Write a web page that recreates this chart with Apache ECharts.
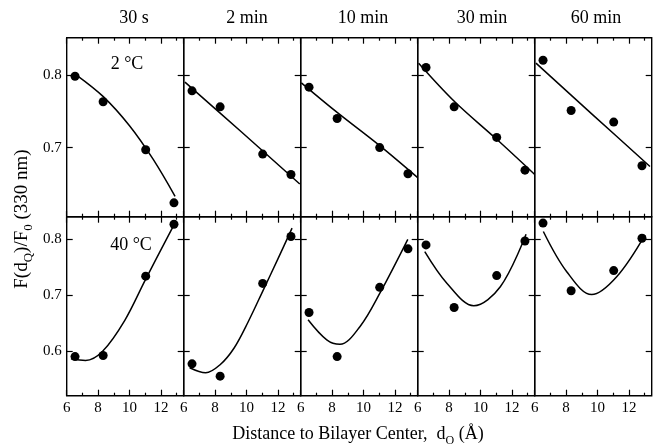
<!DOCTYPE html>
<html><head><meta charset="utf-8">
<script src="https://cdn.jsdelivr.net/npm/echarts@6/dist/echarts.min.js"></script>
<style>html,body{margin:0;padding:0;background:#fff}#c{width:657px;height:447px}</style>
</head><body><div id="c"></div>
<script>
// ---- data ----
const panelTitles = ['30 s', '2 min', '10 min', '30 min', '60 min'];
const rowLabels = ['2 \u00B0C', '40 \u00B0C'];
const xMajorTicks = [6, 8, 10, 12];
const xMinorTicks = [7, 9, 11, 13];
const yTicksTop = [0.7, 0.8];
const yTicksBottom = [0.6, 0.7, 0.8];
const xPts = [6.53, 8.32, 11.03, 12.83];

// 2 °C row
const cold30s = [0.798, 0.763, 0.697, 0.624];
const cold2m  = [0.778, 0.756, 0.691, 0.663];
const cold10m = [0.783, 0.740, 0.700, 0.664];
const cold30m = [0.810, 0.756, 0.714, 0.669];
const cold60m = [0.820, 0.751, 0.735, 0.675];
// 40 °C row
const warm30s = [0.590, 0.592, 0.734, 0.827];
const warm2m  = [0.577, 0.555, 0.721, 0.805];
const warm10m = [0.669, 0.590, 0.714, 0.783];
const warm30m = [0.790, 0.678, 0.735, 0.797];
const warm60m = [0.829, 0.708, 0.744, 0.802];

// fitted curves as drawn
const fitCold30s = [[6.6,0.800],[8.33,0.770],[10.0,0.730],[11.5,0.684],[12.9,0.633]];
const fitCold2m  = [[6.08,0.790],[9.7,0.721],[13.39,0.650]];
const fitCold10m = [[6.04,0.789],[8.34,0.748],[11.01,0.703],[13.43,0.659]];
const fitCold30m = [[6.06,0.816],[8.36,0.763],[11.05,0.711],[13.45,0.663]];
const fitCold60m = [[6.08,0.816],[9.7,0.745],[13.34,0.674]];
const fitWarm30s = [[6.27,0.586],[7.2,0.583],[8.3,0.600],[9.7,0.655],[11.0,0.727],[12.83,0.826]];
const fitWarm2m  = [[6.38,0.570],[7.4,0.561],[8.3,0.575],[9.2,0.605],[10.1,0.652],[11.08,0.710],[12.0,0.765],[12.9,0.820]];
const fitWarm10m = [[6.47,0.656],[7.66,0.620],[8.5,0.612],[9.78,0.644],[11.05,0.704],[12.82,0.800]];
const fitWarm30m = [[6.45,0.778],[7.87,0.721],[9.57,0.681],[11.26,0.715],[12.9,0.809]];
const fitWarm60m = [[6.55,0.814],[8.04,0.742],[9.63,0.701],[11.22,0.733],[13.03,0.808]];

const pointSets = [cold30s, cold2m, cold10m, cold30m, cold60m, warm30s, warm2m, warm10m, warm30m, warm60m];
const fitSets = [fitCold30s, fitCold2m, fitCold10m, fitCold30m, fitCold60m, fitWarm30s, fitWarm2m, fitWarm10m, fitWarm30m, fitWarm60m];

// ---- layout ----
const FONT = '"Liberation Serif","Times New Roman",serif';
const L0 = 66.7, PW = 117, T0 = 37.7, PH = 179;
const X_MIN = 6, X_MAX = 13.45;
const Y_RANGE = [[0.605, 0.851], [0.52, 0.8405]];
const titleX = [134, 247, 363, 482, 596];

const grid = [], xAxis = [], yAxis = [], series = [];
function xAx(g, pos, vals, len, labels) {
  return {type:'value', gridIndex:g, position:pos, min:X_MIN, max:X_MAX,
    axisLine:{show:false, onZero:false}, splitLine:{show:false},
    axisTick:{show:true, inside:true, length:len, customValues:vals, lineStyle:{color:'#000', width:1.2}},
    axisLabel:{show:labels, customValues:vals, margin:5, color:'#000', fontFamily:FONT, fontSize:15}};
}
function yAx(g, pos, r, labels) {
  const vals = r === 0 ? yTicksTop : yTicksBottom;
  return {type:'value', gridIndex:g, position:pos, min:Y_RANGE[r][0], max:Y_RANGE[r][1],
    axisLine:{show:false, onZero:false}, splitLine:{show:false},
    axisTick:{show:true, inside:true, length:6, customValues:vals, lineStyle:{color:'#000', width:1.2}},
    axisLabel:{show:labels, customValues:vals, margin:5, color:'#000', fontFamily:FONT, fontSize:15,
      formatter:v => v.toFixed(1)}};
}
for (let p = 0; p < 10; p++) {
  const r = p < 5 ? 0 : 1, c = p % 5;
  grid.push({left:L0 + c*PW, top:T0 + r*PH, width:PW, height:PH, show:true,
    borderColor:'#000', borderWidth:1.4, backgroundColor:'transparent'});
  xAxis.push(xAx(p, 'bottom', xMajorTicks, 6, r === 1));
  xAxis.push(xAx(p, 'bottom', xMinorTicks, 3, false));
  xAxis.push(xAx(p, 'top', xMajorTicks, 6, false));
  xAxis.push(xAx(p, 'top', xMinorTicks, 3, false));
  yAxis.push(yAx(p, 'left', r, c === 0));
  yAxis.push(yAx(p, 'right', r, false));
  series.push({type:'line', xAxisIndex:4*p, yAxisIndex:2*p, data:fitSets[p], smooth:0.35,
    symbol:'none', lineStyle:{color:'#000', width:1.5}, z:2});
  series.push({type:'scatter', xAxisIndex:4*p, yAxisIndex:2*p,
    data:pointSets[p].map((v, i) => [xPts[i], v]), symbolSize:9,
    itemStyle:{color:'#000', opacity:1}, clip:false, z:3});
}

const graphic = [];
panelTitles.forEach((t, i) => graphic.push({type:'text', x:titleX[i], y:18,
  style:{text:t, fontFamily:FONT, fontSize:18, fill:'#000', align:'center', verticalAlign:'middle'}}));
graphic.push({type:'text', x:127, y:64, style:{text:rowLabels[0], fontFamily:FONT, fontSize:18, fill:'#000', align:'center', verticalAlign:'middle'}});
graphic.push({type:'text', x:131, y:245, style:{text:rowLabels[1], fontFamily:FONT, fontSize:18, fill:'#000', align:'center', verticalAlign:'middle'}});
graphic.push({type:'text', x:22, y:219, rotation:Math.PI/2,
  style:{text:'F(d{s|Q})/F{s|0} (330 nm)', fontFamily:FONT, fontSize:19, fill:'#000',
    align:'center', verticalAlign:'middle',
    rich:{s:{fontFamily:FONT, fontSize:13, fill:'#000', verticalAlign:'bottom', lineHeight:26}}}});
graphic.push({type:'text', x:358, y:434,
  style:{text:'Distance to Bilayer Center,  d{s|O} (\u00C5)', fontFamily:FONT, fontSize:18, fill:'#000',
    align:'center', verticalAlign:'middle',
    rich:{s:{fontFamily:FONT, fontSize:12, fill:'#000', verticalAlign:'bottom', lineHeight:25}}}});

const chart = echarts.init(document.getElementById('c'), null, {renderer:'canvas'});
chart.setOption({animation:false, backgroundColor:'#fff', grid, xAxis, yAxis, series, graphic});
</script></body></html>
